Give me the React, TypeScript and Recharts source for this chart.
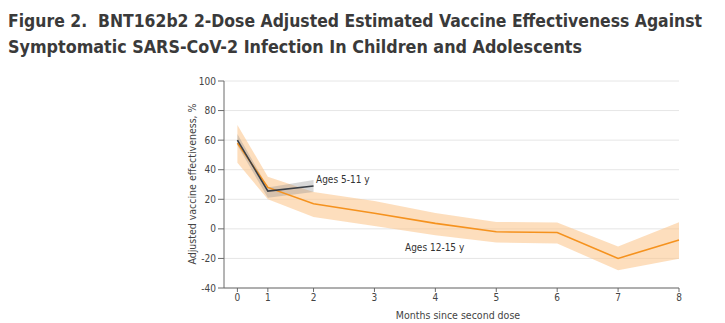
import React from 'react';
import { ComposedChart, Line, Area, XAxis, YAxis, CartesianGrid } from 'recharts';

// Month tick labels and where each estimate is plotted (months since second dose)
const monthLabels = ['0', '1', '2', '3', '4', '5', '6', '7', '8'];
const monthPos = [0.75, 1.25, 2, 3, 4, 5, 6, 7, 8];

// Ages 12-15 y
const teenVE = [58, 28, 17, 10.5, 3.7, -2, -2.5, -20, -7.5];
const teenLow = [44.7, 20, 8, 2, -4.3, -9.2, -9.9, -28, -20.3];
const teenHigh = [70.3, 35.3, 25, 18.8, 10.8, 4.7, 4.3, -12, 4.4];

// Ages 5-11 y
const childVE = [60, 25.5, 29];
const childLow = [56.5, 21, 25];
const childHigh = [64.2, 28, 33];

const yTicks = [-40, -20, 0, 20, 40, 60, 80, 100];

const titleLines = [
  'Figure 2.  BNT162b2 2-Dose Adjusted Estimated Vaccine Effectiveness Against',
  'Symptomatic SARS-CoV-2 Infection In Children and Adolescents',
];

const data = monthPos.map((m, i) => ({
  m,
  teen: teenVE[i],
  teenBand: [teenLow[i], teenHigh[i]],
  child: i < childVE.length ? childVE[i] : null,
  childBand: i < childVE.length ? [childLow[i], childHigh[i]] : null,
}));

const FONT = "'DejaVu Sans Condensed', sans-serif";
const TITLE_FONT = "'DejaVu Sans Condensed', sans-serif";

export default function App() {
  return (
    <div style={{ position: 'absolute', left: 0, top: 0, width: 725, height: 323, background: '#fff', overflow: 'hidden' }}>
      <div style={{ position: 'absolute', left: 0, top: 0 }}>
        <ComposedChart width={725} height={323} data={data} margin={{ top: 81, right: 46, bottom: 5, left: 174 }}>
          <CartesianGrid horizontal vertical={false} stroke="#e6e6e6" strokeWidth={1} />
          <XAxis
            dataKey="m"
            type="number"
            domain={[0.53, 8]}
            ticks={monthPos}
            interval={0}
            tickFormatter={(v: number) => monthLabels[monthPos.indexOf(v)]}
            tickSize={4}
            tickMargin={2}
            height={30}
            stroke="#6a6a6a"
            tick={{ fill: '#444', fontSize: 10, fontFamily: FONT }}
          />
          <YAxis
            type="number"
            domain={[-40, 100]}
            ticks={yTicks}
            interval={0}
            width={50}
            tickSize={6}
            tickMargin={2}
            stroke="#6a6a6a"
            tick={{ fill: '#444', fontSize: 10, fontFamily: FONT }}
          />
          <Area
            dataKey="teenBand"
            type="linear"
            stroke="none"
            fill="#fbc891"
            fillOpacity={0.6}
            isAnimationActive={false}
          />
          <Area
            dataKey="childBand"
            type="linear"
            stroke="none"
            fill="#8f8f8f"
            fillOpacity={0.35}
            isAnimationActive={false}
          />
          <Line
            dataKey="teen"
            type="linear"
            stroke="#f5921e"
            strokeWidth={1.6}
            dot={false}
            isAnimationActive={false}
          />
          <Line
            dataKey="child"
            type="linear"
            stroke="#3a3f46"
            strokeWidth={1.6}
            dot={false}
            isAnimationActive={false}
          />
        </ComposedChart>
      </div>
      <svg width={725} height={323} style={{ position: 'absolute', left: 0, top: 0, pointerEvents: 'none' }}>
        <text x={8} y={27} fontFamily={TITLE_FONT} fontWeight="bold" fontSize={18} fill="#3a3a3a" textLength={694} lengthAdjust="spacingAndGlyphs" style={{ whiteSpace: 'pre' }}>
          {titleLines[0]}
        </text>
        <text x={8} y={53} fontFamily={TITLE_FONT} fontWeight="bold" fontSize={18} fill="#3a3a3a" textLength={574} lengthAdjust="spacingAndGlyphs" style={{ whiteSpace: 'pre' }}>
          {titleLines[1]}
        </text>
        <text
          transform="translate(192,184) rotate(-90)"
          textAnchor="middle"
          dominantBaseline="central"
          fontFamily={FONT}
          fontSize={10.5}
          fill="#444"
        >
          Adjusted vaccine effectiveness, %
        </text>
        <text x={458} y={315} textAnchor="middle" dominantBaseline="central" fontFamily={FONT} fontSize={10.5} fill="#444">
          Months since second dose
        </text>
        <text x={316} y={183} fontFamily={FONT} fontSize={10} fill="#333">Ages 5-11 y</text>
        <text x={405} y={251} fontFamily={FONT} fontSize={10} fill="#333">Ages 12-15 y</text>
      </svg>
    </div>
  );
}
